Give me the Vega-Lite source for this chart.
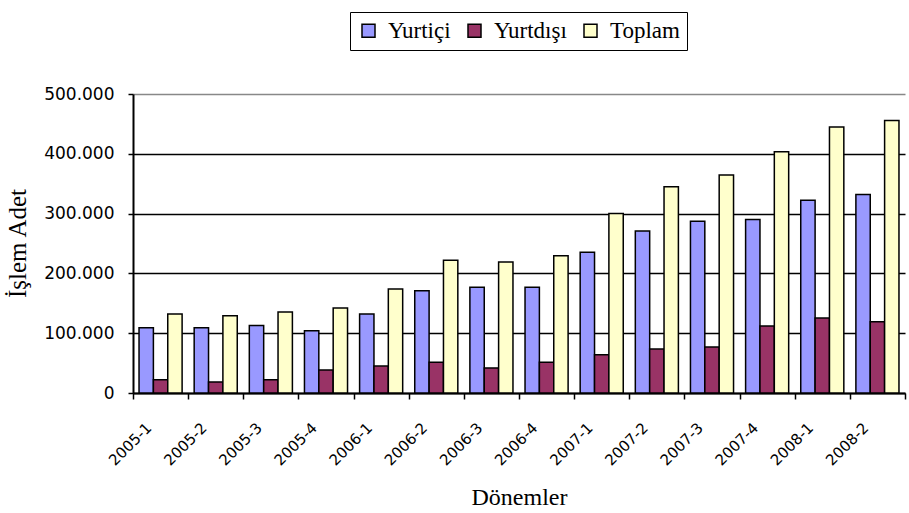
{
  "$schema": "https://vega.github.io/schema/vega-lite/v6.json",
  "autosize": "none",
  "width": 772,
  "height": 299,
  "padding": {"left": 133, "top": 94, "right": 4, "bottom": 120},
  "background": "white",
  "config": {
    "view": {"stroke": null},
    "axis": {"titleFont": "Liberation Serif", "titleFontWeight": "normal", "titleFontSize": 24, "titleColor": "black", "labelFont": "DejaVu Sans", "labelColor": "black"},
    "legend": {"labelFont": "Liberation Serif", "labelFontSize": 23, "labelColor": "black"}
  },
  "data": {"values": [
    {"d": "2005-1", "s": "Yurtiçi", "v": 109000}, {"d": "2005-1", "s": "Yurtdışı", "v": 22000}, {"d": "2005-1", "s": "Toplam", "v": 132000},
    {"d": "2005-2", "s": "Yurtiçi", "v": 109000}, {"d": "2005-2", "s": "Yurtdışı", "v": 18500}, {"d": "2005-2", "s": "Toplam", "v": 129000},
    {"d": "2005-3", "s": "Yurtiçi", "v": 113000}, {"d": "2005-3", "s": "Yurtdışı", "v": 22000}, {"d": "2005-3", "s": "Toplam", "v": 135500},
    {"d": "2005-4", "s": "Yurtiçi", "v": 104000}, {"d": "2005-4", "s": "Yurtdışı", "v": 38500}, {"d": "2005-4", "s": "Toplam", "v": 142000},
    {"d": "2006-1", "s": "Yurtiçi", "v": 132000}, {"d": "2006-1", "s": "Yurtdışı", "v": 45000}, {"d": "2006-1", "s": "Toplam", "v": 174000},
    {"d": "2006-2", "s": "Yurtiçi", "v": 171000}, {"d": "2006-2", "s": "Yurtdışı", "v": 51500}, {"d": "2006-2", "s": "Toplam", "v": 222000},
    {"d": "2006-3", "s": "Yurtiçi", "v": 177000}, {"d": "2006-3", "s": "Yurtdışı", "v": 42000}, {"d": "2006-3", "s": "Toplam", "v": 219000},
    {"d": "2006-4", "s": "Yurtiçi", "v": 177000}, {"d": "2006-4", "s": "Yurtdışı", "v": 51500}, {"d": "2006-4", "s": "Toplam", "v": 229500},
    {"d": "2007-1", "s": "Yurtiçi", "v": 235500}, {"d": "2007-1", "s": "Yurtdışı", "v": 64000}, {"d": "2007-1", "s": "Toplam", "v": 300000},
    {"d": "2007-2", "s": "Yurtiçi", "v": 271000}, {"d": "2007-2", "s": "Yurtdışı", "v": 73500}, {"d": "2007-2", "s": "Toplam", "v": 345000},
    {"d": "2007-3", "s": "Yurtiçi", "v": 287000}, {"d": "2007-3", "s": "Yurtdışı", "v": 77000}, {"d": "2007-3", "s": "Toplam", "v": 364500},
    {"d": "2007-4", "s": "Yurtiçi", "v": 290000}, {"d": "2007-4", "s": "Yurtdışı", "v": 112000}, {"d": "2007-4", "s": "Toplam", "v": 403500},
    {"d": "2008-1", "s": "Yurtiçi", "v": 322500}, {"d": "2008-1", "s": "Yurtdışı", "v": 125500}, {"d": "2008-1", "s": "Toplam", "v": 445000},
    {"d": "2008-2", "s": "Yurtiçi", "v": 332000}, {"d": "2008-2", "s": "Yurtdışı", "v": 119000}, {"d": "2008-2", "s": "Toplam", "v": 455500}
  ]},
  "mark": {"type": "bar", "stroke": "black", "strokeWidth": 1.5},
  "encoding": {
    "x": {
      "field": "d", "type": "nominal", "sort": null,
      "scale": {"paddingInner": 0, "paddingOuter": 0},
      "axis": {
        "title": "Dönemler", "titlePadding": 17,
        "labelAngle": -45, "labelAlign": "right", "labelBaseline": "middle", "labelFontSize": 15,
        "labelOffset": -12, "labelPadding": 26,
        "tickBand": "extent", "tickSize": 6, "tickColor": "black", "tickWidth": 1.5,
        "domainColor": "black", "domainWidth": 2, "grid": false
      }
    },
    "xOffset": {"field": "s", "type": "nominal", "sort": ["Yurtiçi", "Yurtdışı", "Toplam"], "scale": {"paddingInner": 0, "paddingOuter": 0.42}},
    "y": {
      "field": "v", "type": "quantitative",
      "scale": {"domain": [0, 500000], "nice": false},
      "axis": {
        "title": "İşlem Adet", "titleFontSize": 25,
        "titleX": -116, "titleY": 149, "titleAngle": -90, "titleAlign": "center", "titleBaseline": "middle",
        "values": [0, 100000, 200000, 300000, 400000, 500000],
        "labelExpr": "replace(format(datum.value, ','), ',', '.')",
        "labelFontSize": 17, "labelPadding": 14,
        "tickSize": 5, "tickColor": "black", "tickWidth": 1.5,
        "domainColor": "black", "domainWidth": 2,
        "grid": true, "gridWidth": 1.5,
        "gridColor": {"condition": {"test": "datum.value == 500000", "value": "#888888"}, "value": "black"}
      }
    },
    "color": {
      "field": "s", "type": "nominal",
      "scale": {"domain": ["Yurtiçi", "Yurtdışı", "Toplam"], "range": ["#9999FF", "#993366", "#FFFFCC"]},
      "legend": {
        "title": null, "orient": "none", "direction": "horizontal", "legendX": 217, "legendY": -82,
        "strokeColor": "black", "padding": 7, "labelOffset": 8,
        "symbolType": "square", "symbolSize": 169, "symbolStrokeColor": "black", "symbolStrokeWidth": 1.5, "symbolOpacity": 1,
        "columnPadding": 12
      }
    }
  }
}
